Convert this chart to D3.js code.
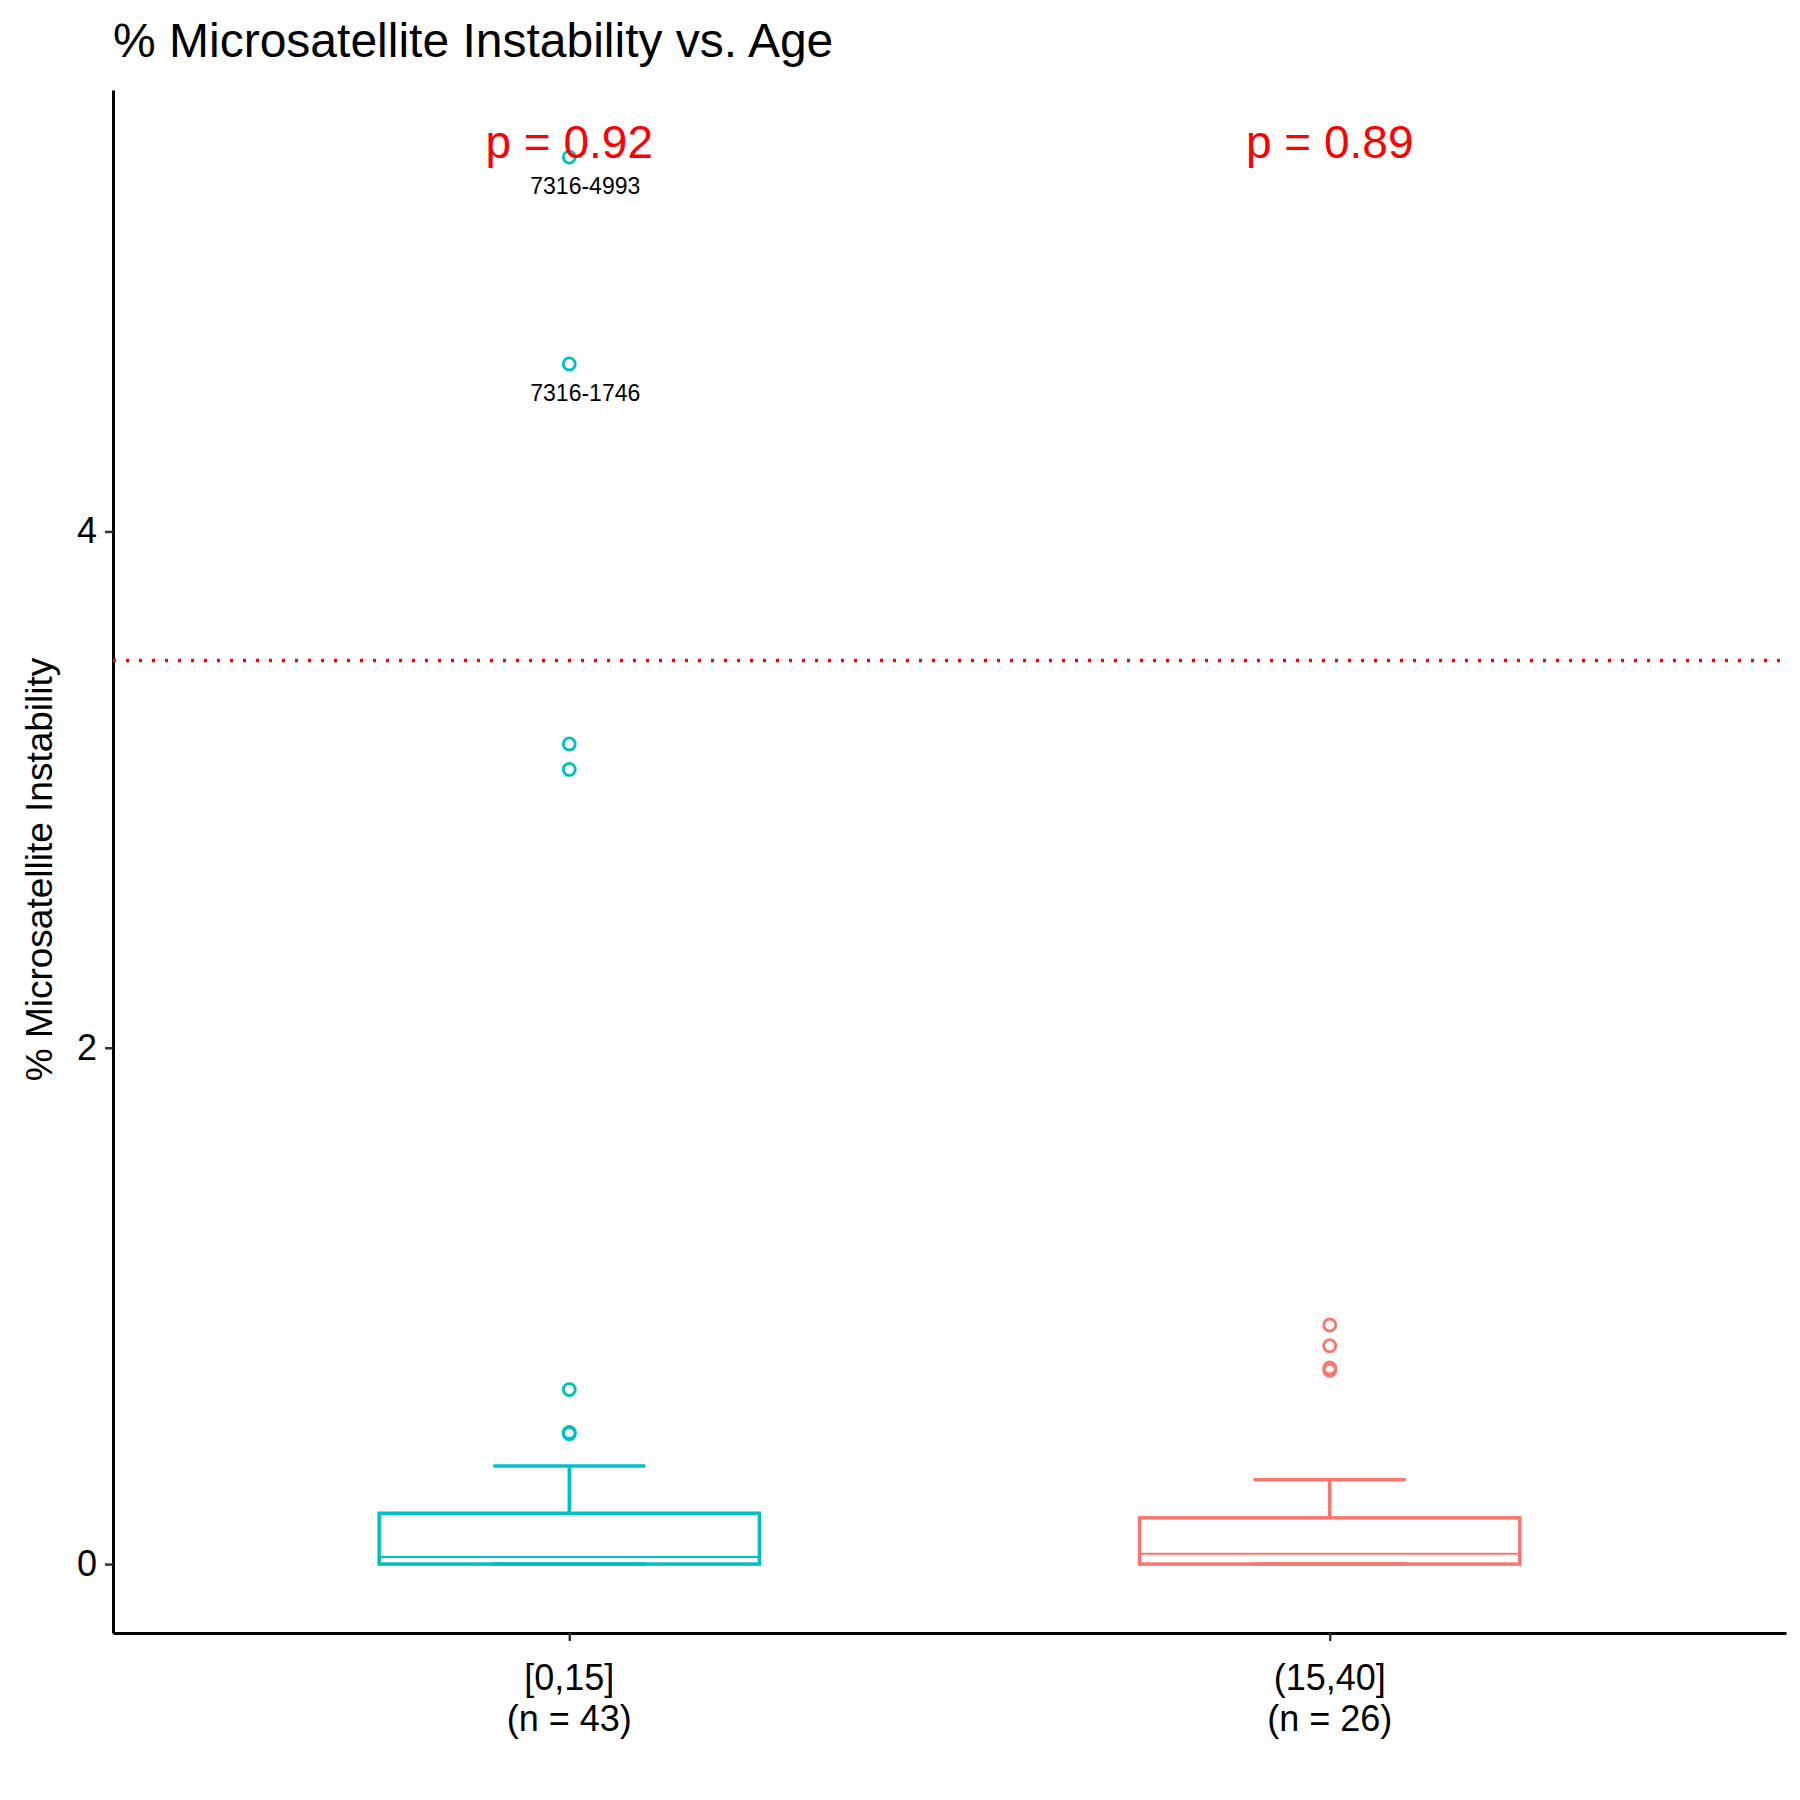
<!DOCTYPE html>
<html><head><meta charset="utf-8">
<script src="https://cdn.jsdelivr.net/npm/d3@7"></script>
<style>body{margin:0;background:#fff}text{font-family:"Liberation Sans",Arial,sans-serif}</style>
</head><body><svg id="c" width="1800" height="1800"></svg>
<script>
const categories=["[0,15]","(15,40]"];
const nLabels=["(n = 43)","(n = 26)"];
const colors=["#00BFC4","#F8766D"];
const q1=[0,0], medians=[0.027,0.04], q3=[0.197,0.179], whiskerLow=[0,0], whiskerHigh=[0.38,0.327];
const outliers=[[0.676,0.51,0.505,3.078,3.177,4.649,5.45],[0.926,0.846,0.76,0.75]];
const labeled=[{g:0,v:5.45,t:"7316-4993"},{g:0,v:4.649,t:"7316-1746"}];
const pvals=["p = 0.92","p = 0.89"];
const threshold=3.5;
const yTicks=[0,2,4];

const svg=d3.select("#c");
const L=113,R=1786,T=90,B=1633;
const xi=d3.scaleLinear().domain([-0.6,1.6]).range([L,R]);
const x=c=>xi(categories.indexOf(c));
const step=xi(1)-xi(0);
const bw=step*0.5, ww=step*0.2;
const y=d3.scaleLinear().domain([-0.267,5.71]).range([B,T]);

svg.append("text").attr("x",113).attr("y",57).attr("font-size",48).text("% Microsatellite Instability vs. Age");

const ya=svg.append("g").attr("transform",`translate(${L},0)`).call(d3.axisLeft(y).tickValues(yTicks).tickFormat(d3.format("d")).tickSize(8).tickSizeOuter(0).tickPadding(8));
const xa=svg.append("g").attr("transform",`translate(0,${B})`).call(d3.axisBottom(xi).tickValues([0,1]).tickSize(8).tickSizeOuter(0).tickFormat(()=>""));
[ya,xa].forEach(a=>{a.select(".domain").attr("stroke","#000").attr("stroke-width",3);a.selectAll(".tick line").attr("stroke","#333").attr("stroke-width",2.5);});
ya.selectAll(".tick text").attr("font-size",36).attr("fill","#000");
categories.forEach((c,i)=>{
  const t=svg.append("text").attr("text-anchor","middle").attr("font-size",36);
  t.append("tspan").attr("x",x(c)).attr("y",B+57).text(c);
  t.append("tspan").attr("x",x(c)).attr("y",B+98).text(nLabels[i]);
});
svg.append("text").attr("transform",`translate(52,${(T+B)/2+8}) rotate(-90)`).attr("text-anchor","middle").attr("font-size",37).text("% Microsatellite Instability");

svg.append("line").attr("x1",L).attr("x2",R).attr("y1",y(threshold)).attr("y2",y(threshold)).attr("stroke","red").attr("stroke-width",3.5).attr("stroke-dasharray","3,10");

categories.forEach((c,i)=>{
  const cx=x(c), g=svg.append("g").attr("stroke",colors[i]).attr("fill","none").attr("stroke-width",3.5);
  g.append("line").attr("x1",cx).attr("x2",cx).attr("y1",y(q3[i])).attr("y2",y(whiskerHigh[i]));
  g.append("line").attr("x1",cx-ww/2).attr("x2",cx+ww/2).attr("y1",y(whiskerHigh[i])).attr("y2",y(whiskerHigh[i]));
  g.append("line").attr("x1",cx-ww/2).attr("x2",cx+ww/2).attr("y1",y(whiskerLow[i])).attr("y2",y(whiskerLow[i]));
  g.append("rect").attr("x",cx-bw/2).attr("width",bw).attr("y",y(q3[i])).attr("height",y(q1[i])-y(q3[i]));
  g.append("line").attr("x1",cx-bw/2).attr("x2",cx+bw/2).attr("y1",y(medians[i])).attr("y2",y(medians[i])).attr("stroke-width",2);
  outliers[i].forEach(v=>g.append("circle").attr("cx",cx).attr("cy",y(v)).attr("r",6).attr("stroke-width",2.8));
  svg.append("text").attr("x",cx).attr("y",158).attr("text-anchor","middle").attr("font-size",46).attr("fill","red").text(pvals[i]);
});
labeled.forEach(d=>svg.append("text").attr("x",x(categories[d.g])+16).attr("y",y(d.v)+37).attr("text-anchor","middle").attr("font-size",23).text(d.t));
</script></body></html>
